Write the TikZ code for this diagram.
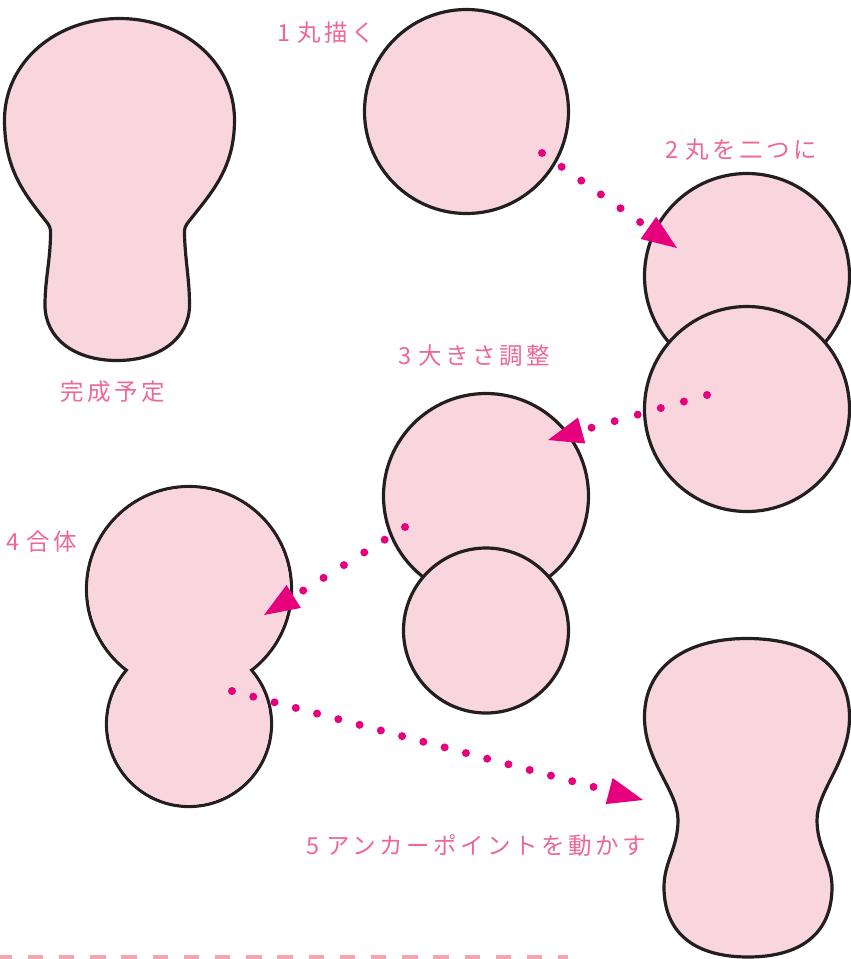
\documentclass[tikz,border=0pt]{standalone}
\usepackage{fontspec}
\usetikzlibrary{arrows.meta}
\newfontfamily\jp{Noto Sans CJK JP}[LetterSpace=15]
\definecolor{pinkfill}{RGB}{249,214,222}
\definecolor{outline}{RGB}{35,31,32}
\definecolor{mag}{RGB}{230,0,126}
\definecolor{labelpink}{RGB}{237,104,146}
\definecolor{dashpink}{RGB}{244,166,176}
\tikzset{
  blob/.style={circle, draw=outline, fill=pinkfill, line width=3.2pt, inner sep=0pt, outer sep=0pt},
  shapeline/.style={draw=outline, fill=pinkfill, line width=3.2pt, line join=round},
  lbl/.style={text=labelpink, font=\jp\fontsize{23.5}{26}\selectfont, anchor=west, inner sep=0pt},
  dotarrow/.style={draw=mag, line width=8pt, line cap=round, dash pattern=on 0pt off #1,
    -{Triangle[length=35pt,width=27pt,line width=0pt]}},
  dotarrow/.default=24pt,
}
\begin{document}
\begin{tikzpicture}[x=1pt,y=-1pt]
\useasboundingbox (0,0) rectangle (851,959);

% finished shape (left)
\path[shapeline] (119.5,18.5) .. controls (183,18.5) and (234.5,62) .. (234.5,120)
  .. controls (234.5,168) and (212,192) .. (190,220)
  .. controls (185,226) and (184,228) .. (184.5,236)
  .. controls (185.5,262) and (189.5,280) .. (189.5,305)
  .. controls (189.5,338) and (160,360.5) .. (117,360.5)
  .. controls (74,360.5) and (45,338) .. (45,305)
  .. controls (45,280) and (50,262) .. (50.5,236)
  .. controls (51,228) and (50,226) .. (45,220)
  .. controls (23,192) and (4.5,168) .. (4.5,120)
  .. controls (4.5,62) and (56,18.5) .. (119.5,18.5) -- cycle;

% step 1
\node[blob, minimum size=204pt] (c1) at (466.5,111.5) {};
% step 2
\node[blob, minimum size=205pt] (c2a) at (747,276) {};
\node[blob, minimum size=205pt] (c2b) at (747,409) {};
% step 3
\node[blob, minimum size=205pt] (c3a) at (486,496) {};
\node[blob, minimum size=165pt] (c3b) at (486,630.5) {};
% step 4 (merged)
\node[blob, minimum size=205pt] (c4a) at (189,589) {};
\node[blob, minimum size=165pt] (c4b) at (189,724) {};
\fill[pinkfill] (c4a.center) circle[radius=100.8pt];
\fill[pinkfill] (c4b.center) circle[radius=80.8pt];

% step 5 (final shape)
\path[shapeline] (747,638.5) .. controls (812,638.5) and (849.5,668) .. (849.5,717)
  .. controls (849.5,762) and (817,790) .. (817,820)
  .. controls (817,848) and (832,862) .. (832,887)
  .. controls (832,935) and (799,957) .. (748,957)
  .. controls (697,957) and (664,935) .. (664,887)
  .. controls (664,862) and (678,848) .. (678,820)
  .. controls (678,790) and (644.5,762) .. (644.5,717)
  .. controls (644.5,668) and (684,638.5) .. (747,638.5) -- cycle;

% labels
\node[lbl] (t0) at (60,392) {完成予定};
\node[lbl] (t1) at (277,33) {1\hspace{7pt}丸描く};
\node[lbl] (t2) at (665,150) {2\hspace{7pt}丸を二つに};
\node[lbl] (t3) at (398,356) {3\hspace{7pt}大きさ調整};
\node[lbl] (t4) at (6,542) {4\hspace{7pt}合体};
\node[lbl] (t5) at (306,846) {5\hspace{7pt}アンカーポイントを動かす};

% arrows
\coordinate (a1s) at (542,153);
\coordinate (a1e) at (677,248);
\coordinate (a2s) at (707,395);
\coordinate (a2e) at (548,440);
\coordinate (a3s) at (405,527);
\coordinate (a3e) at (264,615);
\coordinate (a4s) at (232,691);
\coordinate (a4e) at (643,800);
\draw[dotarrow] (a1s) -- (a1e);
\draw[dotarrow] (a2s) -- (a2e);
\draw[dotarrow] (a3s) -- (a3e);
\draw[dotarrow=22pt] (a4s) -- (a4e);

% dashed baseline
\coordinate (d1) at (-3.5,957);
\coordinate (d2) at (568,957);
\draw[dashpink, line width=3.5pt, dash pattern=on 15.4pt off 15.8pt] (d1) -- (d2);
\end{tikzpicture}
\end{document}
